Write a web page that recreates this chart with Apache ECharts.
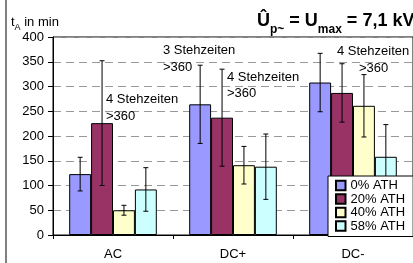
<!DOCTYPE html>
<html>
<head>
<meta charset="utf-8">
<script src="https://cdn.jsdelivr.net/npm/echarts@6/dist/echarts.min.js"></script>
<style>
  html, body { margin: 0; padding: 0; background: #fff; }
  #chart { width: 413px; height: 263px; }
</style>
</head>
<body>
<div id="chart"></div>
<script>
// Kategorien und Reihen
var categories = ['AC', 'DC+', 'DC-'];
var seriesNames = ['0% ATH', '20% ATH', '40% ATH', '58% ATH'];
var colors = ['#9999FF', '#993366', '#FFFFCC', '#CCFFFF'];

// Mittelwerte t_A in min
var ath0 = [123, 264, 308];
var ath20 = [226, 237, 287];
var ath40 = [50, 141, 261];
var ath58 = [92, 138, 158];

// Streuung (+/-)
var err0 = [34, 79, 59];
var err20 = [126, 98, 59];
var err40 = [10, 38, 63];
var err58 = [44, 66, 65];

var yTicks = [0, 50, 100, 150, 200, 250, 300, 350, 400];
var notes = ['4 Stehzeiten', '>360', '3 Stehzeiten', '>360', '4 Stehzeiten', '>360', '4 Stehzeiten', '>360'];

var values = [ath0, ath20, ath40, ath58];
var errors = [err0, err20, err40, err58];
var gapRatio = 0.27;
var font = 'Liberation Sans';

var errData = [];
values.forEach(function (vals, g) {
  vals.forEach(function (v, i) {
    errData.push([i, v - errors[g][i], v + errors[g][i], g]);
  });
});

function renderErr(params, api) {
  var ci = api.value(0), lo = api.value(1), hi = api.value(2), g = api.value(3);
  var band = api.size([1, 0])[0];
  var bw = band * (1 - gapRatio) / 4;
  var x = api.coord([ci, 0])[0] + (g - 1.5) * bw;
  var yl = api.coord([ci, lo])[1], yh = api.coord([ci, hi])[1];
  var c = 2.5;
  var st = { stroke: '#000', lineWidth: 1 };
  return {
    type: 'group',
    children: [
      { type: 'line', shape: { x1: x, y1: yl, x2: x, y2: yh }, style: st },
      { type: 'line', shape: { x1: x - c, y1: yh, x2: x + c, y2: yh }, style: st },
      { type: 'line', shape: { x1: x - c, y1: yl, x2: x + c, y2: yl }, style: st }
    ]
  };
}

var notePos = [[106, 99.5], [106, 116], [163, 50], [163, 67], [227, 77], [227, 93.5], [337, 51], [359, 68]];
var graphics = [
  { type: 'rect', shape: { x: 5, y: 0, width: 2, height: 263 }, style: { fill: '#808080' }, z: 10 }
];
notes.forEach(function (t, i) {
  graphics.push({
    type: 'text', z: 10,
    style: { text: t, x: notePos[i][0], y: notePos[i][1], fill: '#000', font: '13px "' + font + '"', verticalAlign: 'middle' }
  });
});

var series = seriesNames.map(function (name, g) {
  return {
    name: name,
    type: 'bar',
    data: values[g],
    barGap: '0%',
    barCategoryGap: (gapRatio * 100) + '%',
    itemStyle: { color: colors[g], borderColor: '#000', borderWidth: 1 }
  };
});
series.push({
  type: 'custom',
  name: 'err',
  renderItem: renderErr,
  data: errData,
  encode: { x: 0, y: [1, 2] },
  z: 3
});

var chart = echarts.init(document.getElementById('chart'));
chart.setOption({
  animation: false,
  textStyle: { fontFamily: font },
  title: [
    {
      text: '{b|Û}{s|p~}{b| = U}{s|max}{b| = 7,1 kV}',
      left: 257, top: 6, padding: 0,
      textStyle: {
        rich: {
          b: { fontSize: 18, fontWeight: 'bold', fontFamily: font, color: '#000', lineHeight: 30 },
          s: { fontSize: 12, fontWeight: 'bold', fontFamily: font, color: '#000', lineHeight: 30, verticalAlign: 'bottom' }
        }
      }
    },
    {
      text: '{n|t}{s|A}{n| in min}',
      left: 11, top: 13, padding: 0,
      textStyle: {
        fontWeight: 'normal',
        rich: {
          n: { fontSize: 13, fontWeight: 'normal', fontFamily: font, color: '#000', lineHeight: 19 },
          s: { fontSize: 9, fontWeight: 'normal', fontFamily: font, color: '#000', lineHeight: 19, verticalAlign: 'bottom' }
        }
      }
    }
  ],
  legend: {
    data: seriesNames,
    orient: 'vertical',
    left: 328, top: 176,
    padding: [3, 8, 4, 7],
    itemWidth: 9.5, itemHeight: 9.5, itemGap: 0.5,
    icon: 'rect',
    backgroundColor: '#fff',
    borderColor: '#000', borderWidth: 1, borderRadius: 0,
    textStyle: { fontSize: 13, color: '#000', fontFamily: font }
  },
  grid: {
    left: 53, top: 37, right: -4, bottom: 28,
    show: true, borderColor: '#000', borderWidth: 1, backgroundColor: 'transparent'
  },
  xAxis: {
    type: 'category',
    data: categories,
    axisLine: { lineStyle: { color: '#000', width: 1 } },
    axisTick: { show: true, length: 4, lineStyle: { color: '#000' } },
    axisLabel: { fontSize: 13, color: '#000', margin: 13 },
    splitLine: { show: false }
  },
  yAxis: {
    type: 'value',
    min: yTicks[0], max: yTicks[yTicks.length - 1], interval: yTicks[1] - yTicks[0],
    axisLine: { show: true, lineStyle: { color: '#000', width: 1 } },
    axisTick: { show: true, length: 5, lineStyle: { color: '#000' } },
    axisLabel: { fontSize: 13, color: '#000', margin: 9 },
    splitLine: { show: true, lineStyle: { color: '#999', width: 1, type: [8, 5] } }
  },
  graphic: graphics,
  series: series
});
</script>
</body>
</html>
